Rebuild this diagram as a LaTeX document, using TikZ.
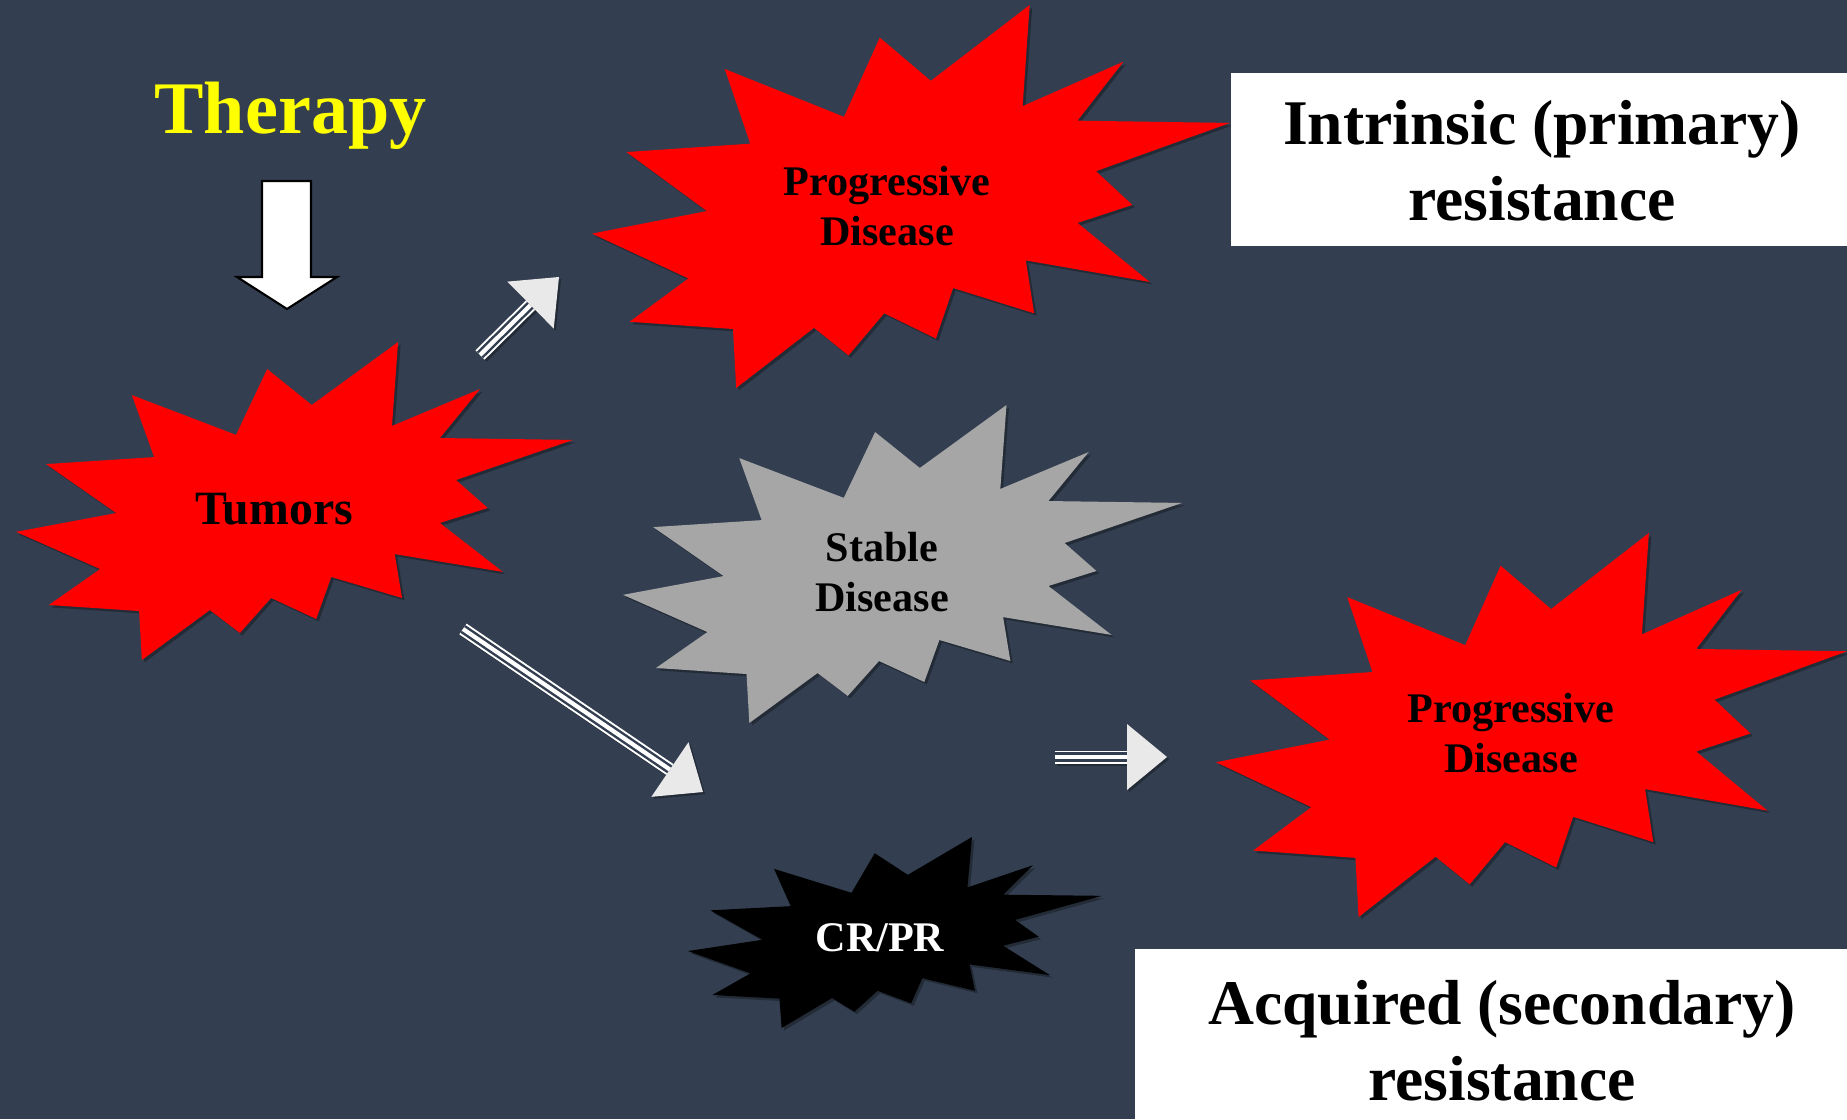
\documentclass[tikz,border=0pt]{standalone}
\usepackage{fontspec}
\setmainfont{Liberation Serif}
\usepackage{tikz}
\usetikzlibrary{calc}
\definecolor{slidebg}{RGB}{51,63,80}
\definecolor{burstred}{RGB}{255,0,0}
\definecolor{burstgrey}{RGB}{166,166,166}
\definecolor{headgrey}{RGB}{233,233,233}
\definecolor{therapyyellow}{RGB}{255,255,0}

% explosion outline in a unit box, y running downwards
\newcommand{\burstshape}{(0.686,0) -- (0.675,0.264) -- (0.833,0.148) -- (0.761,0.302)
  -- (1,0.308) -- (0.790,0.434) -- (0.847,0.522) -- (0.761,0.569) -- (0.874,0.723)
  -- (0.680,0.667) -- (0.693,0.805) -- (0.566,0.739) -- (0.539,0.871) -- (0.458,0.805)
  -- (0.402,0.915) -- (0.348,0.843) -- (0.226,1) -- (0.221,0.846) -- (0.059,0.827)
  -- (0.151,0.714) -- (0,0.597) -- (0.180,0.538) -- (0.054,0.384) -- (0.248,0.362)
  -- (0.208,0.167) -- (0.395,0.292) -- (0.451,0.085) -- (0.531,0.198) -- cycle}

% #1 left, #2 top, #3 width, #4 height, #5 fill colour
\newcommand{\burst}[5]{%
  \fill[black, opacity=0.3, shift={(#1+0.025,#2-0.025)}, xscale=#3, yscale=-#4] \burstshape;
  \fill[#5, shift={(#1,#2)}, xscale=#3, yscale=-#4] \burstshape;
}

% #1 tail, #2 tip
\newcommand{\triplearrow}[2]{%
  \coordinate (head base) at ($(#2)!0.40cm!(#1)$);
  \draw[black, opacity=0.3, line width=3.7pt, transform canvas={shift={(0.6pt,-0.6pt)}}]
    (#1) -- (head base);
  \draw[white, line width=3.7pt] (#1) -- (head base);
  \draw[slidebg, line width=2.6pt] (#1) -- (head base);
  \draw[white, line width=1.2pt] (#1) -- (head base);
  \fill[black, opacity=0.3, transform canvas={shift={(0.6pt,-0.6pt)}}]
    (#2) -- ($(head base)!0.33cm!90:(#2)$) -- ($(head base)!0.33cm!-90:(#2)$) -- cycle;
  \fill[headgrey]
    (#2) -- ($(head base)!0.33cm!90:(#2)$) -- ($(head base)!0.33cm!-90:(#2)$) -- cycle;
}

\tikzset{
  burstlabel/.style={font=\bfseries\fontsize{12}{14.4}\selectfont, align=center, inner sep=0pt},
  boxlabel/.style={font=\bfseries\fontsize{18.1}{21.6}\selectfont, align=center, inner sep=0pt}
}

\begin{document}
\begin{tikzpicture}
  \useasboundingbox (0,0) rectangle (18.47,11.19);
  \fill[slidebg] (0,0) rectangle (18.47,11.19);

  % bursts
  \burst{0.16}{7.77}{5.57}{3.18}{burstred}
  \burst{5.92}{11.14}{6.38}{3.83}{burstred}
  \burst{6.23}{7.14}{5.59}{3.18}{burstgrey}
  \burst{12.16}{5.86}{6.31}{3.84}{burstred}
  \burst{6.88}{2.82}{4.14}{1.91}{black}

  \node[burstlabel, font=\bfseries\fontsize{13.6}{16}\selectfont, anchor=base]
    (tumors) at (2.74,5.95) {Tumors};
  \node[burstlabel] (pd top) at (8.87,9.13) {Progressive\\Disease};
  \node[burstlabel] (sd) at (8.82,5.47) {Stable\\Disease};
  \node[burstlabel] (pd low) at (15.11,3.86) {Progressive\\Disease};
  \node[burstlabel, white, anchor=base] (crpr) at (8.80,1.68) {CR/PR};

  % therapy and its block arrow
  \node[font=\bfseries\fontsize{21.1}{25}\selectfont, therapyyellow, inner sep=0pt, anchor=base]
    (therapy) at (2.905,9.85) {Therapy};
  \coordinate (drop top) at (2.865,9.38);
  \coordinate (drop tip) at (2.87,8.10);
  \filldraw[fill=white, draw=black, line width=0.6pt]
    ($(drop top)+(-0.245,0)$) -- ($(drop top)+(0.245,0)$) -- ($(drop tip)+(0.24,0.32)$)
    -- ($(drop tip)+(0.50,0.32)$) -- (drop tip) -- ($(drop tip)+(-0.50,0.32)$)
    -- ($(drop tip)+(-0.25,0.32)$) -- cycle;

  % outcome arrows
  \coordinate (up tail) at (4.80,7.64);
  \coordinate (up tip) at (5.59,8.42);
  \coordinate (down tail) at (4.63,4.90);
  \coordinate (down tip) at (7.03,3.27);
  \coordinate (right tail) at (10.55,3.62);
  \coordinate (right tip) at (11.67,3.62);
  \triplearrow{up tail}{up tip}
  \triplearrow{down tail}{down tip}
  \triplearrow{right tail}{right tip}

  % resistance boxes
  \fill[white] (12.31,8.73) rectangle (18.47,10.46);
  \node[boxlabel] (intrinsic) at (15.42,9.58) {Intrinsic (primary)\\resistance};
  \fill[white] (11.35,0) rectangle (18.47,1.70);
  \node[boxlabel] (acquired) at (15.02,0.78) {Acquired (secondary)\\resistance};
\end{tikzpicture}
\end{document}
